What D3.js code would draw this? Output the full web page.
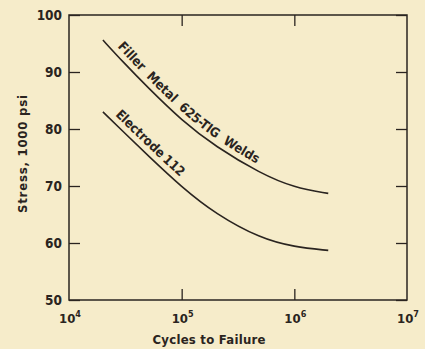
<!DOCTYPE html>
<html>
<head>
<meta charset="utf-8">
<script src="https://cdn.jsdelivr.net/npm/d3@7"></script>
<style>
  body { margin: 0; background: #f6ecca; }
  svg { display: block; }
  .lbl { font-family: "DejaVu Sans Condensed", "DejaVu Sans", sans-serif; font-weight: bold; fill: #2a2420; }
</style>
</head>
<body>
<svg id="chart" width="425" height="349"></svg>
<script>
// cycles to failure
const cycles = [2e4, 3e4, 5e4, 1e5, 2e5, 5e5, 1e6, 2e6];
// stress, 1000 psi
const fillerMetal = [95.6, 91.8, 87.3, 81.5, 76.9, 72.2, 69.7, 68.7];
const electrode = [83.0, 79.6, 75.4, 69.8, 65.1, 60.8, 59.3, 58.7];
const yTicks = [50, 60, 70, 80, 90, 100];
const xTicks = [1e4, 1e5, 1e6, 1e7];

const svg = d3.select("#chart");
const ink = "#2a2420";

const x = d3.scaleLog().domain([1e4, 1e7]).range([69, 407]);
const y = d3.scaleLinear().domain([50, 100]).range([300, 15]);

// frame
svg.append("rect")
  .attr("x", x(1e4)).attr("y", y(100))
  .attr("width", x(1e7) - x(1e4)).attr("height", y(50) - y(100))
  .attr("fill", "none").attr("stroke", ink).attr("stroke-width", 1.5);

// inner ticks
const yLeft = svg.append("g").attr("transform", `translate(${x(1e4)},0)`)
  .call(d3.axisLeft(y).tickValues(yTicks).tickSizeInner(-11).tickSizeOuter(0));
const yRight = svg.append("g").attr("transform", `translate(${x(1e7)},0)`)
  .call(d3.axisRight(y).tickValues(yTicks).tickSizeInner(-11).tickSizeOuter(0).tickFormat(""));
const xTop = svg.append("g").attr("transform", `translate(0,${y(100)})`)
  .call(d3.axisTop(x).tickValues([1e5, 1e6]).tickSizeInner(-11).tickSizeOuter(0).tickFormat(""));
const xBottom = svg.append("g").attr("transform", `translate(0,${y(50)})`)
  .call(d3.axisBottom(x).tickValues([1e5, 1e6]).tickSizeInner(-11).tickSizeOuter(0).tickFormat(""));

[yLeft, yRight, xTop, xBottom].forEach(g => {
  g.select(".domain").remove();
  g.selectAll("line").attr("stroke", ink).attr("stroke-width", 1.3);
});
yLeft.selectAll("text")
  .attr("class", "lbl")
  .attr("x", -7)
  .attr("dy", "0.36em")
  .style("font-size", "13.5px");

// x tick labels with exponent
xTicks.forEach(v => {
  const t = svg.append("text").attr("class", "lbl")
    .attr("x", x(v) + 1).attr("y", 323)
    .attr("text-anchor", "middle")
    .style("font-size", "13px");
  t.append("tspan").text("10");
  t.append("tspan").attr("dy", -6).style("font-size", "9px").text(Math.log10(v));
});

// axis titles
svg.append("text").attr("class", "lbl")
  .attr("transform", `translate(27,154) rotate(-90)`)
  .attr("text-anchor", "middle")
  .attr("textLength", 118)
  .style("font-size", "13px")
  .text("Stress, 1000 psi");

svg.append("text").attr("class", "lbl")
  .attr("x", 209).attr("y", 344)
  .attr("text-anchor", "middle")
  .attr("textLength", 113)
  .style("font-size", "13px")
  .text("Cycles to Failure");

// curves
const line = d3.line()
  .x(d => x(d[0]))
  .y(d => y(d[1]))
  .curve(d3.curveBasis);

const series = [
  { id: "filler", values: fillerMetal, label: "Filler Metal 625-TIG Welds", offset: 15, len: 184 },
  { id: "electrode", values: electrode, label: "Electrode 112", offset: 11, len: 90 }
];

series.forEach(s => {
  svg.append("path")
    .attr("id", "curve-" + s.id)
    .datum(cycles.map((c, i) => [c, s.values[i]]))
    .attr("fill", "none")
    .attr("stroke", ink)
    .attr("stroke-width", 1.6)
    .attr("d", line);

  // one text per word along the curve, spread to fill the label length
  const words = s.label.split(" ");
  const paths = words.map(w => svg.append("text").attr("class", "lbl")
    .attr("dy", -6)
    .style("font-size", "13px")
    .append("textPath")
    .attr("href", "#curve-" + s.id)
    .text(w));
  const widths = paths.map(p => p.node().getComputedTextLength());
  const gap = (s.len - d3.sum(widths)) / (words.length - 1);
  let pos = s.offset;
  paths.forEach((p, i) => {
    p.attr("startOffset", pos);
    pos += widths[i] + gap;
  });
});
</script>
</body>
</html>
